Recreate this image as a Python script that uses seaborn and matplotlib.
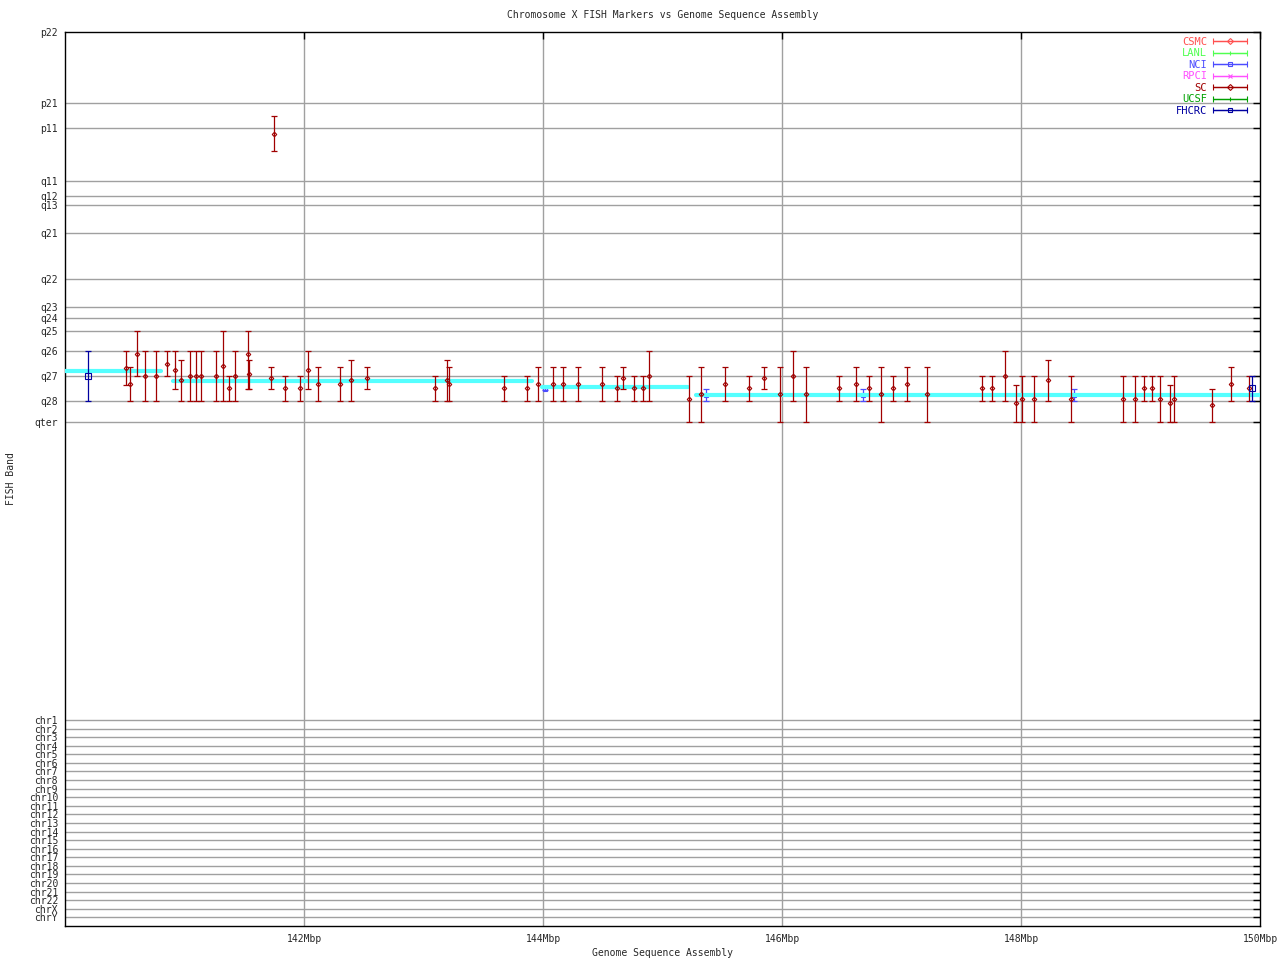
import pandas as pd
import matplotlib
matplotlib.use("Agg")
import matplotlib.pyplot as plt
import seaborn as sns
from matplotlib.container import ErrorbarContainer
from matplotlib.legend_handler import HandlerErrorbar

# Band ticks on the y axis (position measured downwards from p22)
band_labels = ['p22', 'p21', 'p11', 'q11', 'q12', 'q13', 'q21', 'q22', 'q23',
               'q24', 'q25', 'q26', 'q27', 'q28', 'qter']
band_pos = [32, 103, 128, 181, 196, 205, 233, 279, 307, 318, 331, 351, 376, 401, 422]

chr_labels = ['chr1', 'chr2', 'chr3', 'chr4', 'chr5', 'chr6', 'chr7', 'chr8', 'chr9',
              'chr10', 'chr11', 'chr12', 'chr13', 'chr14', 'chr15', 'chr16', 'chr17',
              'chr18', 'chr19', 'chr20', 'chr21', 'chr22', 'chrX', 'chrY']
chr_pos = [720, 729, 737, 746, 754, 763, 771, 780, 789, 797, 806, 814, 823, 832,
           840, 849, 857, 866, 874, 883, 892, 900, 909, 917]

x_ticks = [142, 144, 146, 148, 150]
x_tick_labels = ['142Mbp', '144Mbp', '146Mbp', '148Mbp', '150Mbp']

# SC markers: position (Mbp), band centre, band low, band high
sc_mbp = [140.51, 140.54, 140.60, 140.67, 140.76, 140.85, 140.92, 140.97, 141.05, 141.10,
          141.14, 141.26, 141.32, 141.37, 141.42, 141.53, 141.54, 141.72, 141.75, 141.84,
          141.97, 142.03, 142.12, 142.30, 142.39, 142.53, 143.10, 143.20, 143.21, 143.67,
          143.87, 143.96, 144.08, 144.17, 144.29, 144.49, 144.62, 144.67, 144.76, 144.84,
          144.89, 145.22, 145.32, 145.52, 145.72, 145.85, 145.98, 146.09, 146.20, 146.48,
          146.62, 146.73, 146.83, 146.93, 147.05, 147.21, 147.67, 147.76, 147.87, 147.96,
          148.01, 148.11, 148.23, 148.42, 148.85, 148.95, 149.03, 149.10, 149.16, 149.25,
          149.28, 149.60, 149.76, 149.91]
sc_mid = [368, 384, 354, 376, 376, 364, 370, 380, 376, 376,
          376, 376, 366, 388, 376, 354, 374, 378, 134, 388,
          388, 370, 384, 384, 380, 378, 388, 380, 384, 388,
          388, 384, 384, 384, 384, 384, 388, 378, 388, 388,
          376, 399, 394, 384, 388, 378, 394, 376, 394, 388,
          384, 388, 394, 388, 384, 394, 388, 388, 376, 403,
          399, 399, 380, 399, 399, 399, 388, 388, 399, 403,
          399, 405, 384, 388]
sc_lo = [351, 367, 331, 351, 351, 351, 351, 360, 351, 351,
         351, 351, 331, 376, 351, 331, 360, 367, 116, 376,
         376, 351, 367, 367, 360, 367, 376, 360, 367, 376,
         376, 367, 367, 367, 367, 367, 376, 367, 376, 376,
         351, 376, 367, 367, 376, 367, 367, 351, 367, 376,
         367, 376, 367, 376, 367, 367, 376, 376, 351, 385,
         376, 376, 360, 376, 376, 376, 376, 376, 376, 385,
         376, 389, 367, 376]
sc_hi = [385, 401, 376, 401, 401, 376, 389, 401, 401, 401,
         401, 401, 401, 401, 401, 389, 389, 389, 151, 401,
         401, 389, 401, 401, 401, 389, 401, 401, 401, 401,
         401, 401, 401, 401, 401, 401, 401, 389, 401, 401,
         401, 422, 422, 401, 401, 389, 422, 401, 422, 401,
         401, 401, 422, 401, 401, 422, 401, 401, 401, 422,
         422, 422, 401, 422, 422, 422, 401, 401, 422, 422,
         422, 422, 401, 401]

nci_mbp = [144.02, 145.36, 146.68, 148.44]
nci_mid = [389, 395, 395, 395]
nci_lo = [388, 389, 389, 389]
nci_hi = [390, 401, 401, 401]

fhcrc_mbp = [140.19, 149.93]
fhcrc_mid = [376, 388]
fhcrc_lo = [351, 376]
fhcrc_hi = [401, 401]

# Sequence assembly placement (cyan steps)
asm_seg = [1, 1, 2, 2, 3, 3, 4, 4]
asm_mbp = [140.0, 140.8, 140.9, 143.91, 143.99, 145.21, 145.28, 150.0]
asm_band = [371, 371, 381, 381, 387, 387, 395, 395]

sources = ['CSMC', 'LANL', 'NCI', 'RPCI', 'SC', 'UCSF', 'FHCRC']
colors = ['#ff5050', '#50ff50', '#4c4cff', '#ff50ff', '#a00000', '#00a000', '#0000a0']
markers = ['D', '|', 's', 'x', 'D', '|', 's']

sns.set_style("white")
plt.rcParams['font.family'] = ['DejaVu Sans Mono']
plt.rcParams['font.size'] = 7

fig = plt.figure(figsize=(12.8, 9.6), dpi=100)
ax = fig.add_axes([65 / 1280, 34 / 960, 1195 / 1280, 894 / 960])

grid_c = '#a0a0a0'
for y in band_pos[1:] + chr_pos:
    ax.axhline(y, color=grid_c, lw=1, zorder=0)
for x in x_ticks[:-1]:
    ax.axvline(x, color=grid_c, lw=1, zorder=0)


def draw_bars(mbp, mid, lo, hi, color, marker, ms, z):
    yerr = [[m - l for m, l in zip(mid, lo)], [h - m for m, h in zip(mid, hi)]]
    ax.errorbar(mbp, mid, yerr=yerr, fmt='none', ecolor=color, elinewidth=0.9,
                capsize=2.2, capthick=0.9, zorder=z)
    ax.plot(mbp, mid, ls='none', marker=marker, ms=ms, mfc='none', mec=color,
            mew=0.8, zorder=z + 0.1)


draw_bars(nci_mbp, nci_mid, nci_lo, nci_hi, colors[2], 's', 3, 2)

asm = pd.DataFrame({'seg': asm_seg, 'mbp': asm_mbp, 'band': asm_band})
sns.lineplot(data=asm, x='mbp', y='band', units='seg', estimator=None, color='#55ffff',
             lw=3, ax=ax, zorder=3, sort=False)

draw_bars(sc_mbp, sc_mid, sc_lo, sc_hi, colors[4], 'D', 2.3, 4)
draw_bars(fhcrc_mbp, fhcrc_mid, fhcrc_lo, fhcrc_hi, colors[6], 's', 4, 4)

ax.set_xlim(140, 150)
ax.set_ylim(926, 32)
ax.set_xlabel('')
ax.set_ylabel('')
ax.set_xticks(x_ticks)
ax.set_xticklabels(x_tick_labels)
ax.set_yticks(band_pos + chr_pos)
ax.set_yticklabels(band_labels + chr_labels)
ax.tick_params(axis='both', direction='in', length=5, width=1, color='black',
               labelsize=7, pad=5)
ax.tick_params(axis='y', right=True)
ax.tick_params(axis='x', top=True, pad=6)
for s in ax.spines.values():
    s.set_color('black')
    s.set_linewidth(1)

fig.text(662.5 / 1280, 1 - 953 / 960, 'Genome Sequence Assembly',
         ha='center', va='center', fontsize=7)
fig.text(11 / 1280, 1 - 479 / 960, 'FISH Band', rotation=90,
         ha='center', va='center', fontsize=7)
fig.text(662.5 / 1280, 1 - 15 / 960, 'Chromosome X FISH Markers vs Genome Sequence Assembly',
         ha='center', va='center', fontsize=7)

# legend handles: horizontal bars with end caps and the source marker
handles = []
for c, m in zip(colors, markers):
    h = ax.errorbar([float('nan')], [float('nan')], xerr=[1], color=c, marker=m, ms=3,
                    mfc='none', mew=0.8, lw=0.9, elinewidth=0.9, capsize=2.5,
                    capthick=0.9)
    handles.append(h)
ax.legend(handles, sources, loc='upper right', bbox_to_anchor=(0.995, 1.003),
          markerfirst=False, frameon=False, labelcolor=colors, fontsize=7.5,
          handlelength=3.2, labelspacing=0.15, borderaxespad=0.3, handletextpad=0.6,
          handler_map={ErrorbarContainer: HandlerErrorbar(xerr_size=1.6)})

plt.savefig('out.png', dpi=100)
